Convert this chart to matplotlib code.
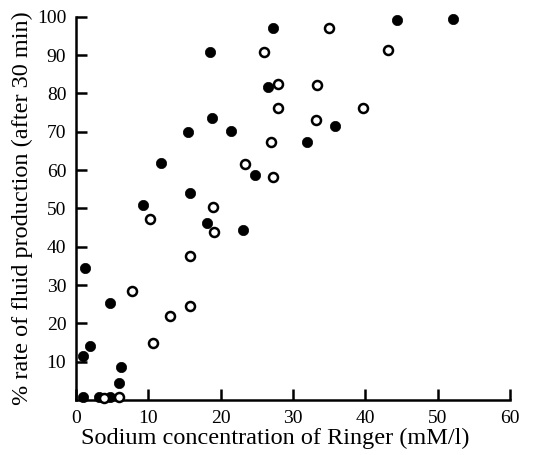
import matplotlib.pyplot as plt

plt.rcParams['font.family'] = ['Liberation Serif', 'DejaVu Serif']

# sodium concentration (mM/l) vs % rate of fluid production
filled_na = [27.2, 18.5, 26.6, 18.8, 15.5, 21.4, 32.0, 11.8, 24.7, 15.7,
             44.4, 52.2, 35.8, 9.2, 18.1, 23.1, 1.2, 4.7, 2.0, 0.9,
             6.2, 6.0, 0.9, 3.2, 4.7]
filled_rate = [97.2, 90.7, 81.8, 73.5, 70.0, 70.1, 67.2, 61.8, 58.7, 54.1,
               99.3, 99.5, 71.5, 50.9, 46.1, 44.4, 34.4, 25.2, 14.1, 11.6,
               8.5, 4.3, 0.7, 0.7, 0.7]

open_na = [26.0, 28.0, 27.9, 26.9, 23.4, 27.2, 35.0, 43.1, 33.3, 39.7,
           33.2, 19.0, 10.2, 19.1, 15.7, 7.7, 15.7, 13.0, 10.6, 6.0, 3.9]
open_rate = [90.9, 82.4, 76.1, 67.2, 61.5, 58.3, 97.0, 91.3, 82.3, 76.2,
             73.1, 50.4, 47.3, 43.8, 37.5, 28.5, 24.6, 21.9, 14.8, 0.8, 0.5]

x_ticks = [0, 10, 20, 30, 40, 50, 60]
y_ticks = [10, 20, 30, 40, 50, 60, 70, 80, 90, 100]

fig = plt.figure(figsize=(5.43, 4.55), dpi=100)
ax = fig.add_axes([0.140, 0.121, 0.799, 0.842])

ax.scatter(filled_na, filled_rate, s=55, c='black', edgecolors='black',
           linewidths=0.5, clip_on=False, zorder=3)
ax.scatter(open_na, open_rate, s=42, facecolors='white', edgecolors='black',
           linewidths=1.8, clip_on=False, zorder=3)

ax.set_xlim(0, 60)
ax.set_ylim(0, 100)
ax.set_xticks(x_ticks)
ax.set_yticks(y_ticks)

for side in ('top', 'right'):
    ax.spines[side].set_visible(False)
for side in ('left', 'bottom'):
    ax.spines[side].set_linewidth(1.8)

ax.tick_params(axis='both', direction='in', length=8, width=1.8,
               labelsize=14, pad=7, colors='black')

ax.set_xlabel('Sodium concentration of Ringer (mM/l)', fontsize=17.5,
              labelpad=1, x=0.46)
ax.set_ylabel('% rate of fluid production (after 30 min)', fontsize=17.5,
              labelpad=3)

fig.savefig('out.png', dpi=100)
